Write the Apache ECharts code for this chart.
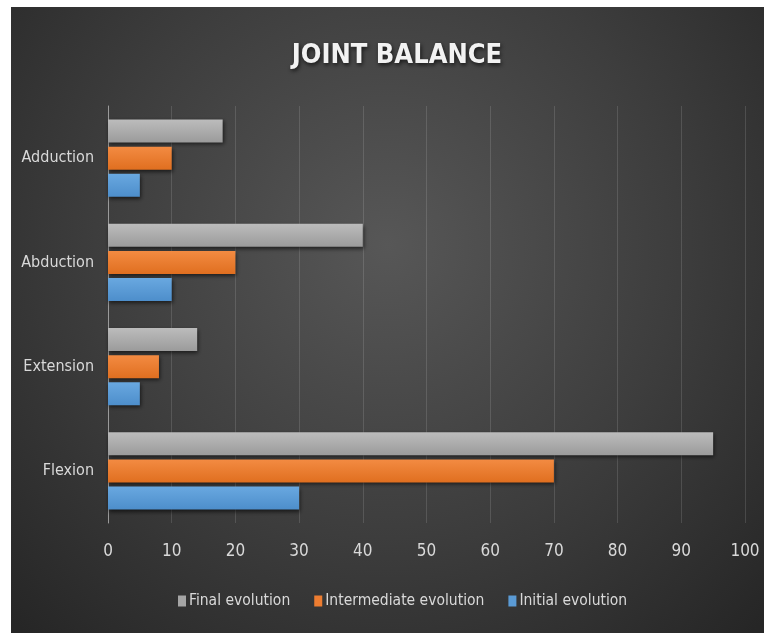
<!DOCTYPE html>
<html>
<head>
<meta charset="utf-8">
<script src="https://cdn.jsdelivr.net/npm/echarts@6/dist/echarts.min.js"></script>
<style>
html,body{margin:0;padding:0;background:#ffffff;}
#chart{width:764px;height:633px;}
</style>
</head>
<body>
<div id="chart"></div>
<script>
const categories = ['Flexion', 'Extension', 'Abduction', 'Adduction'];
const finalEvolution = [95, 14, 40, 18];
const intermediateEvolution = [70, 8, 20, 10];
const initialEvolution = [30, 5, 10, 5];
const seriesNames = ['Final evolution', 'Intermediate evolution', 'Initial evolution'];
const xTicks = [0, 10, 20, 30, 40, 50, 60, 70, 80, 90, 100];

const FONT = '"DejaVu Sans Condensed", "Liberation Sans Narrow", sans-serif';

function grad(top, bottom) {
  return new echarts.graphic.LinearGradient(0, 0, 0, 1, [
    {offset: 0, color: top}, {offset: 1, color: bottom}
  ]);
}

const styles = [
  {color: grad('#bcbcbc', '#9b9b9b'), legend: '#a5a5a5'},
  {color: grad('#f38b42', '#e06f20'), legend: '#ed7d31'},
  {color: grad('#69a8e0', '#4d8ecb'), legend: '#5b9bd5'}
];
const dataSets = [finalEvolution, intermediateEvolution, initialEvolution];

const chart = echarts.init(document.getElementById('chart'), null, {renderer: 'canvas'});
chart.setOption({
  backgroundColor: '#ffffff',
  animation: false,
  graphic: [{
    type: 'rect',
    z: -100,
    silent: true,
    shape: {x: 11, y: 7, width: 753, height: 626},
    style: {
      fill: new echarts.graphic.RadialGradient(0.5, 0.38, 0.85, [
        {offset: 0, color: '#575757'},
        {offset: 0.55, color: '#3d3d3d'},
        {offset: 1, color: '#262626'}
      ])
    }
  }],
  title: {
    text: 'JOINT BALANCE',
    left: 392,
    textAlign: 'center',
    top: 37,
    textStyle: {
      fontFamily: FONT,
      fontSize: 27,
      fontWeight: 'bold',
      color: '#f2f2f2',
      textShadowColor: 'rgba(0,0,0,0.7)',
      textShadowBlur: 4,
      textShadowOffsetX: 1,
      textShadowOffsetY: 2
    }
  },
  legend: {
    bottom: 19,
    left: 173,
    data: seriesNames.map((n, i) => ({name: n, itemStyle: {color: styles[i].legend}})),
    itemWidth: 8,
    itemHeight: 11,
    itemGap: 24,
    icon: 'rect',
    textStyle: {fontFamily: FONT, fontSize: 15.5, color: '#d9d9d9', padding: [0, 0, 0, -2]}
  },
  grid: {left: 108, right: 19, top: 106, bottom: 110, containLabel: false},
  xAxis: {
    type: 'value',
    min: 0,
    max: 100,
    interval: 10,
    axisLine: {show: false},
    axisTick: {show: false},
    axisLabel: {
      margin: 20,
      fontFamily: FONT,
      fontSize: 17,
      color: '#d9d9d9',
      formatter: v => xTicks.includes(v) ? String(v) : ''
    },
    splitLine: {show: true, lineStyle: {color: 'rgba(255,255,255,0.13)', width: 1}}
  },
  yAxis: {
    type: 'category',
    data: categories,
    axisLine: {show: true, lineStyle: {color: '#9a9a9a', width: 1}},
    axisTick: {show: false},
    axisLabel: {margin: 14, fontFamily: FONT, fontSize: 16, color: '#d9d9d9'}
  },
  series: seriesNames.map((n, i) => ({
    name: n,
    type: 'bar',
    data: dataSets[i],
    barWidth: 23,
    barGap: '18%',
    itemStyle: {
      color: styles[i].color,
      shadowColor: 'rgba(0,0,0,0.6)',
      shadowBlur: 4,
      shadowOffsetX: 1,
      shadowOffsetY: 2
    }
  }))
});
</script>
</body>
</html>
